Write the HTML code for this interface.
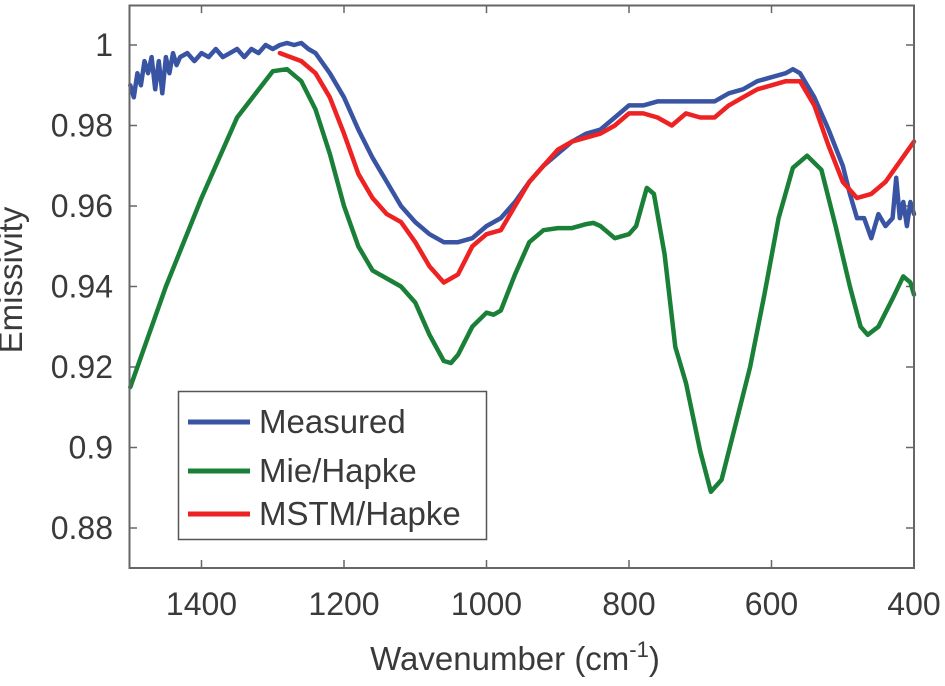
<!DOCTYPE html>
<html><head><meta charset="utf-8"><style>
body{margin:0;background:#fff;}
svg text{font-family:"Liberation Sans",sans-serif;fill:#3a3a3a;}
</style></head><body>
<svg id="chart" width="945" height="681">
<g id="ticks"></g>
<g id="series" stroke-linejoin="round" stroke-linecap="round" fill="none"></g>
<rect x="129.5" y="5.5" width="784.5" height="562.5" fill="none" stroke="#666" stroke-width="2"/>
<text x="22" y="280" font-size="33" text-anchor="middle" transform="rotate(-90 22 280)">Emissivity</text>
<text x="515" y="670" font-size="33" text-anchor="middle">Wavenumber (cm<tspan dy="-13" font-size="22">-1</tspan><tspan dy="13">)</tspan></text>
<g>
<rect x="178.5" y="391.5" width="308" height="148" fill="#fff" stroke="#555" stroke-width="1.5"/>
<line x1="188" y1="422" x2="250" y2="422" stroke="#3a54a4" stroke-width="5"/>
<text x="259" y="433" font-size="33" fill="#222">Measured</text>
<line x1="188" y1="471" x2="250" y2="471" stroke="#1a8038" stroke-width="5"/>
<text x="259" y="482" font-size="33">Mie/Hapke</text>
<line x1="188" y1="514" x2="250" y2="514" stroke="#ee2222" stroke-width="5"/>
<text x="259" y="525" font-size="33">MSTM/Hapke</text>
</g>
</svg>
<script>
const xTicks=[1400,1200,1000,800,600,400];
const yTicks=[1,0.98,0.96,0.94,0.92,0.9,0.88];
const yTickLabels=["1","0.98","0.96","0.94","0.92","0.9","0.88"];
const measuredX=[1500,1495,1490,1485,1480,1475,1470,1465,1460,1455,1450,1445,1440,1435,1430,1420,1410,1400,1390,1380,1370,1360,1350,1340,1330,1320,1310,1300,1290,1280,1270,1260,1250,1240,1220,1200,1180,1160,1140,1120,1100,1080,1060,1040,1020,1000,980,960,940,920,900,880,860,840,820,800,780,760,740,720,700,680,660,640,620,600,580,570,560,540,520,500,490,480,470,460,450,440,430,425,420,415,410,405,400];
const measuredY=[0.990,0.987,0.993,0.990,0.996,0.993,0.997,0.989,0.996,0.988,0.997,0.993,0.998,0.995,0.997,0.998,0.996,0.998,0.997,0.999,0.997,0.998,0.999,0.997,0.999,0.998,1.000,0.999,1.000,1.0005,1.000,1.0005,0.999,0.998,0.993,0.987,0.979,0.972,0.966,0.960,0.956,0.953,0.951,0.951,0.952,0.955,0.957,0.961,0.966,0.970,0.973,0.976,0.978,0.979,0.982,0.985,0.985,0.986,0.986,0.986,0.986,0.986,0.988,0.989,0.991,0.992,0.993,0.994,0.993,0.987,0.979,0.970,0.963,0.957,0.957,0.952,0.958,0.955,0.957,0.967,0.957,0.961,0.955,0.961,0.958];
const mstmX=[1290,1260,1240,1220,1200,1180,1160,1140,1120,1100,1080,1060,1040,1020,1000,980,960,940,920,900,880,860,840,820,800,780,760,740,720,700,680,660,640,620,600,580,560,540,520,500,480,460,440,420,400];
const mstmY=[0.998,0.996,0.993,0.987,0.978,0.968,0.962,0.958,0.956,0.951,0.945,0.941,0.943,0.950,0.953,0.954,0.960,0.966,0.970,0.974,0.976,0.977,0.978,0.980,0.983,0.983,0.982,0.980,0.983,0.982,0.982,0.985,0.987,0.989,0.990,0.991,0.991,0.985,0.975,0.966,0.962,0.963,0.966,0.971,0.976];
const mieX=[1500,1450,1400,1350,1300,1280,1260,1240,1220,1200,1180,1160,1140,1120,1100,1080,1060,1050,1040,1020,1000,990,980,960,940,920,900,880,860,850,840,820,800,790,775,765,750,735,720,700,685,670,650,630,610,590,570,550,530,510,490,475,465,450,430,415,405,400];
const mieY=[0.915,0.940,0.962,0.982,0.9935,0.994,0.991,0.984,0.973,0.960,0.950,0.944,0.942,0.940,0.936,0.928,0.9215,0.921,0.923,0.930,0.9335,0.933,0.934,0.943,0.951,0.954,0.9545,0.9545,0.9555,0.9558,0.955,0.952,0.953,0.955,0.9645,0.963,0.948,0.925,0.916,0.899,0.889,0.892,0.906,0.920,0.938,0.957,0.9695,0.9725,0.969,0.955,0.940,0.930,0.928,0.930,0.937,0.9425,0.941,0.938];
const NS="http://www.w3.org/2000/svg";
function sx(w){return 914-(w-400)*0.7125;}
function sy(v){return 45+(1-v)*4025;}
const tg=document.getElementById('ticks');
xTicks.forEach(t=>{
 const l=document.createElementNS(NS,'line');
 l.setAttribute('x1',sx(t));l.setAttribute('x2',sx(t));l.setAttribute('y1',568);l.setAttribute('y2',560);l.setAttribute('stroke','#666');l.setAttribute('stroke-width',1.5);
 
 
 tg.appendChild(l);
 const l2=l.cloneNode();l2.setAttribute('y1',5);l2.setAttribute('y2',13);tg.appendChild(l2);
 const tx=document.createElementNS(NS,'text');
 tx.setAttribute('x',sx(t));tx.setAttribute('y',615);tx.setAttribute('font-size',32);tx.setAttribute('text-anchor','middle');
 tx.textContent=t;
 
 
 tg.appendChild(tx);
});
yTicks.forEach((t,i)=>{
 const l=document.createElementNS(NS,'line');
 l.setAttribute('x1',129);l.setAttribute('x2',137);l.setAttribute('y1',sy(t));l.setAttribute('y2',sy(t));l.setAttribute('stroke','#666');l.setAttribute('stroke-width',1.5);
 
 
 tg.appendChild(l);
 const l2=l.cloneNode();l2.setAttribute('x1',914);l2.setAttribute('x2',906);tg.appendChild(l2);
 const tx=document.createElementNS(NS,'text');
 tx.setAttribute('x',113);tx.setAttribute('y',sy(t)+11);tx.setAttribute('font-size',32);tx.setAttribute('text-anchor','end');
 tx.textContent=yTickLabels[i];
 
 
 tg.appendChild(tx);
});
const sg=document.getElementById('series');
function line(xs,ys,color,name){
 const p=document.createElementNS(NS,'polyline');
 p.setAttribute('points',xs.map((x,i)=>sx(x).toFixed(1)+','+sy(ys[i]).toFixed(1)).join(' '));
 p.setAttribute('stroke',color);p.setAttribute('stroke-width',4.5);
 
 
 sg.appendChild(p);
}
line(mieX,mieY,'#1a8038','mie-hapke-line');
line(measuredX,measuredY,'#3a54a4','measured-line');
line(mstmX,mstmY,'#ee2222','mstm-hapke-line');
</script>
</body></html>
